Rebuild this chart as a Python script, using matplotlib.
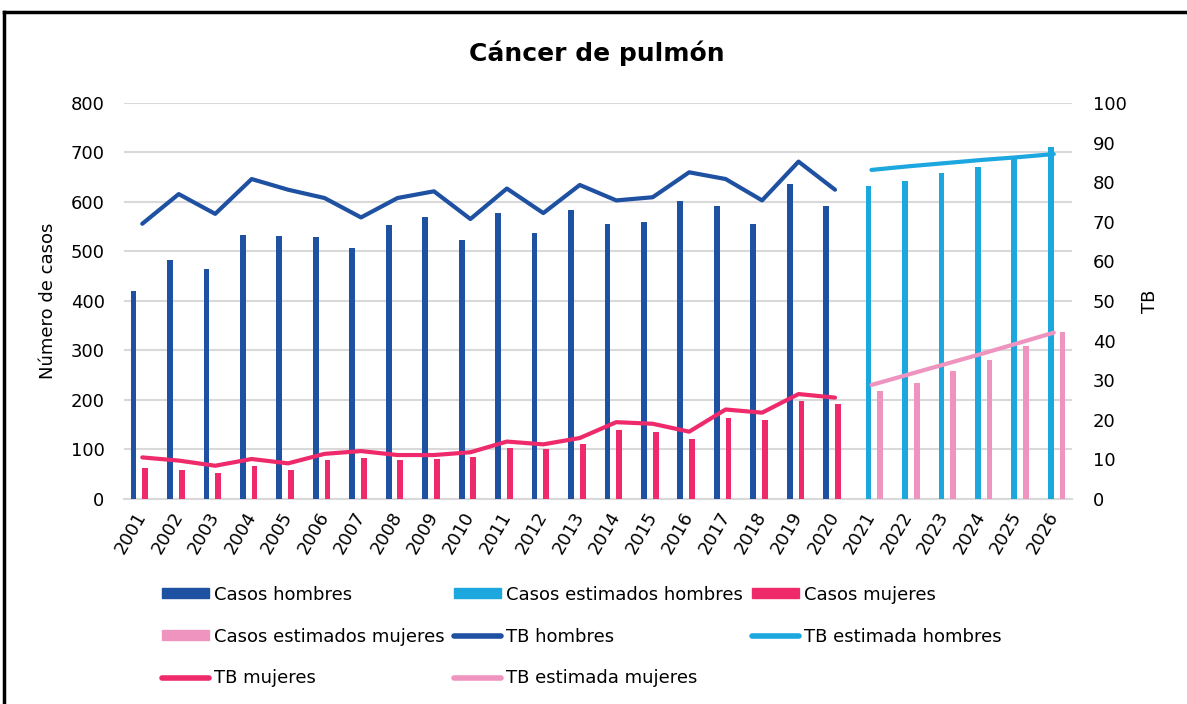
import matplotlib
matplotlib.use("Agg")
import matplotlib.pyplot as plt
from matplotlib.lines import Line2D
from matplotlib.patches import Patch
import numpy as np

plt.rcParams["font.family"] = ["DejaVu Sans"]

years = [str(y) for y in range(2001, 2027)]

casos_hombres = [421, 483, 464, 534, 531, 529, 508, 553, 569, 524,
                 577, 538, 584, 555, 559, 603, 591, 555, 636, 591]
casos_est_hombres = [632, 642, 658, 670, 687, 711]
casos_mujeres = [63, 58, 53, 66, 58, 78, 82, 78, 80, 84,
                 103, 101, 111, 140, 135, 121, 163, 159, 197, 192]
casos_est_mujeres = [218, 235, 259, 281, 310, 338]

tb_hombres = [69.5, 77.0, 72.0, 80.8, 78.1, 76.0, 71.1, 76.0, 77.7, 70.7,
              78.4, 72.2, 79.3, 75.4, 76.2, 82.5, 80.8, 75.4, 85.2, 78.1]
tb_est_hombres = [83.1, 84.0, 84.8, 85.6, 86.3, 87.1]
tb_mujeres = [10.5, 9.7, 8.4, 10.1, 9.0, 11.4, 12.1, 11.1, 11.1, 11.8,
              14.5, 13.8, 15.4, 19.4, 19.0, 17.0, 22.6, 21.8, 26.5, 25.6]
tb_est_mujeres = [28.8, 31.4, 34.0, 36.6, 39.3, 42.0]

azul = "#1E51A1"
celeste = "#1CA7DF"
rosa = "#EE2A6B"
rosa_claro = "#EE94BF"
gris = "#D9D9D9"

x_obs = np.arange(len(casos_hombres))
x_est = np.arange(len(casos_hombres), len(years))

fig = plt.figure(figsize=(11.87, 7.04), dpi=100)
ax = fig.add_axes([0.1045, 0.2912, 0.7986, 0.5625])
ax2 = ax.twinx()

slot = 0.16
ax.bar(x_obs - 1.5 * slot, casos_hombres, width=slot, color=azul, zorder=3)
ax.bar(x_est - 0.5 * slot, casos_est_hombres, width=slot, color=celeste, zorder=3)
ax.bar(x_obs + 0.5 * slot, casos_mujeres, width=slot, color=rosa, zorder=3)
ax.bar(x_est + 1.5 * slot, casos_est_mujeres, width=slot, color=rosa_claro, zorder=3)

ax2.plot(x_obs, tb_hombres, color=azul, lw=3, solid_capstyle="round", solid_joinstyle="round")
ax2.plot(x_est, tb_est_hombres, color=celeste, lw=3, solid_capstyle="round", solid_joinstyle="round")
ax2.plot(x_obs, tb_mujeres, color=rosa, lw=3, solid_capstyle="round", solid_joinstyle="round")
ax2.plot(x_est, tb_est_mujeres, color=rosa_claro, lw=3, solid_capstyle="round", solid_joinstyle="round")

ax.set_xlim(-0.5, len(years) - 0.5)
ax.set_ylim(0, 800)
ax.set_yticks(range(0, 801, 100))
ax2.set_ylim(0, 100)
ax2.set_yticks(range(0, 101, 10))

ax.grid(axis="y", color=gris, lw=1.5, zorder=0)
ax.set_axisbelow(True)
for a in (ax, ax2):
    for s in a.spines.values():
        s.set_visible(False)
ax.spines["bottom"].set_visible(True)
ax.spines["bottom"].set_color(gris)
ax.spines["bottom"].set_linewidth(1.5)

ax.set_xticks(range(len(years)))
ax.set_xticklabels(years, rotation=60, ha="right", va="center",
                   rotation_mode="anchor", fontsize=13)
ax.tick_params(axis="x", length=0, pad=10)
ax.tick_params(axis="y", length=0, pad=14, labelsize=13)
ax2.tick_params(axis="y", length=0, pad=15, labelsize=13)

ax.set_ylabel("Número de casos", fontsize=13, labelpad=10)
ax2.set_ylabel("TB", fontsize=13, labelpad=10, rotation=90)

fig.text(0.503, 0.925, "Cáncer de pulmón", ha="center", va="center",
         fontsize=18, fontweight="bold")

handles = [
    Patch(color=azul, label="Casos hombres"),
    Patch(color=rosa_claro, label="Casos estimados mujeres"),
    Line2D([], [], color=rosa, lw=4, solid_capstyle="round", label="TB mujeres"),
    Patch(color=celeste, label="Casos estimados hombres"),
    Line2D([], [], color=azul, lw=4, solid_capstyle="round", label="TB hombres"),
    Line2D([], [], color=rosa_claro, lw=4, solid_capstyle="round", label="TB estimada mujeres"),
    Patch(color=rosa, label="Casos mujeres"),
    Line2D([], [], color=celeste, lw=4, solid_capstyle="round", label="TB estimada hombres"),
]
fig.legend(handles=handles, ncol=3, loc="upper left",
           bbox_to_anchor=(0.1365, 0.168), frameon=False, fontsize=13,
           handlelength=2.6, handleheight=0.5, handletextpad=0.28,
           columnspacing=0.5, labelspacing=1.32, borderpad=0, borderaxespad=0)

fig.add_artist(Line2D([4 / 1187, 1], [1 - 12 / 704, 1 - 12 / 704],
                      color="black", lw=2.5, transform=fig.transFigure))
fig.add_artist(Line2D([4 / 1187, 4 / 1187], [0, 1 - 12 / 704],
                      color="black", lw=2.5, transform=fig.transFigure))

fig.savefig("out.png", dpi=100)
